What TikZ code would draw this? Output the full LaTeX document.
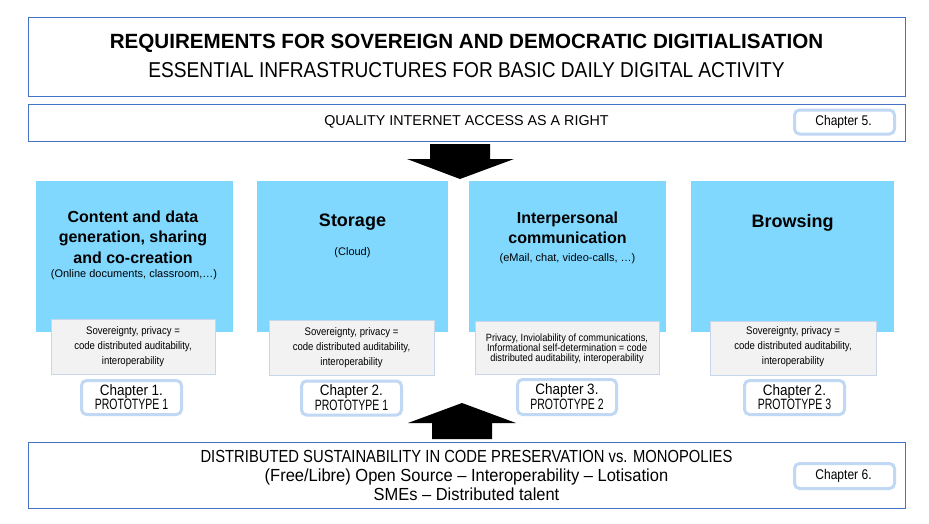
\documentclass[tikz,border=0pt]{standalone}
\usepackage{fontspec}
\setmainfont{Liberation Sans}
\definecolor{boxblue}{RGB}{68,114,196}
\definecolor{catblue}{RGB}{128,216,255}
\definecolor{chapline}{RGB}{192,216,244}
\definecolor{grayline}{RGB}{200,214,236}
\definecolor{grayfill}{RGB}{242,242,242}
\newcommand{\fs}[2]{\fontsize{#1}{#2}\selectfont}
\newcommand{\nar}[1]{\addfontfeature{FakeStretch=#1}}
\begin{document}
\begin{tikzpicture}[x=1pt,y=-1pt,
  frame/.style={draw=boxblue,line width=1pt,fill=white,inner sep=0pt},
  cat/.style={fill=catblue,inner sep=0pt},
  req/.style={fill=grayfill,draw=grayline,line width=0.8pt,inner sep=0pt},
  chap/.style={fill=white,draw=chapline,line width=3pt,rounded corners=5pt,inner sep=0pt},
  txt/.style={inner sep=0pt,align=center,text=black}]
\useasboundingbox[fill=white] (0,0) rectangle (929,523);

% top title box
\node[frame,minimum width=877pt,minimum height=79pt] (title) at (466.5,56.5) {};
\node[txt,font=\fs{20.6}{24}\bfseries] (t1) at (466.5,43.5) {REQUIREMENTS FOR SOVEREIGN AND DEMOCRATIC DIGITIALISATION};
\node[txt,font=\fs{21.5}{24}\nar{0.89}] (t2) at (466.5,70.5) {ESSENTIAL INFRASTRUCTURES FOR BASIC DAILY DIGITAL ACTIVITY};

% internet access box
\node[frame,minimum width=877pt,minimum height=37pt] (net) at (466.5,122.5) {};
\node[txt,font=\fs{14.3}{17}] (nettxt) at (466.5,122) {QUALITY INTERNET ACCESS AS A RIGHT};
\node[chap,minimum width=100pt,minimum height=24pt] (ch5) at (844.5,122) {};
\node[txt,font=\fs{14}{16}\nar{0.86}] (ch5t) at (843.5,122) {Chapter 5.};

% bottom box
\node[frame,minimum width=877pt,minimum height=66pt] (base) at (466.5,475) {};
\node[txt,font=\fs{17.5}{19}] (basetxt) at (466.5,475.5) {{\nar{0.845}DISTRIBUTED SUSTAINABILITY IN CODE PRESERVATION vs. MONOPOLIES}\\{\nar{0.943}(Free/Libre) Open Source -- Interoperability -- Lotisation}\\{\nar{0.94}SMEs -- Distributed talent}};
\node[chap,minimum width=100pt,minimum height=25pt] (ch6) at (844.5,476) {};
\node[txt,font=\fs{14}{16}\nar{0.86}] (ch6t) at (843.5,476) {Chapter 6.};

% block arrows
\fill[black] (430,144) -- (490,144) -- (490,159) -- (514,159) -- (460,179) -- (407,159) -- (430,159) -- cycle;
\fill[black] (432,439) -- (492,439) -- (492,423) -- (516,423) -- (462,403) -- (408,423) -- (432,423) -- cycle;

% category boxes
\node[cat,minimum width=197pt,minimum height=151pt] (c1) at (134.5,256.5) {};
\node[cat,minimum width=191pt,minimum height=151pt] (c2) at (352.5,256.5) {};
\node[cat,minimum width=197pt,minimum height=151pt] (c3) at (567.5,256.5) {};
\node[cat,minimum width=203pt,minimum height=151pt] (c4) at (792.5,256.5) {};

\node[txt,font=\fs{16}{20.5}\bfseries] (c1h) at (133,237) {Content and data\\generation, sharing\\and co-creation};
\node[txt,font=\fs{11}{13}] (c1s) at (134,275) {(Online documents, classroom,…)};
\node[txt,font=\fs{18}{21}\bfseries] (c2h) at (352.5,222.5) {Storage};
\node[txt,font=\fs{11}{13}] (c2s) at (352.5,253) {(Cloud)};
\node[txt,font=\fs{16}{20.5}\bfseries] (c3h) at (567.5,228) {Interpersonal\\communication};
\node[txt,font=\fs{11}{13}] (c3s) at (567.5,259) {(eMail, chat, video-calls, …)};
\node[txt,font=\fs{18}{21}\bfseries] (c4h) at (792.5,222.5) {Browsing};

% requirement boxes
\node[req,minimum width=164pt,minimum height=55pt] (r1) at (133,346.5) {};
\node[req,minimum width=165pt,minimum height=55pt] (r2) at (351.5,347.5) {};
\node[req,minimum width=184pt,minimum height=53pt] (r3) at (567,347.5) {};
\node[req,minimum width=166pt,minimum height=54pt] (r4) at (793,348) {};
\node[txt,font=\fs{11}{15}\nar{0.87}] (r1t) at (133,346.5) {Sovereignty, privacy =\\code distributed auditability,\\interoperability};
\node[txt,font=\fs{11}{15}\nar{0.87}] (r2t) at (351.5,347.5) {Sovereignty, privacy =\\code distributed auditability,\\interoperability};
\node[txt,font=\fs{10.5}{9.8}\nar{0.88}] (r3t) at (567,348.5) {Privacy, Inviolability of communications,\\Informational self-determination = code\\distributed auditability, interoperability};
\node[txt,font=\fs{11}{15}\nar{0.87}] (r4t) at (793,347) {Sovereignty, privacy =\\code distributed auditability,\\interoperability};

% chapter boxes
\node[chap,minimum width=100pt,minimum height=34pt] (p1) at (131.5,397.5) {};
\node[chap,minimum width=100pt,minimum height=34pt] (p2) at (351.5,398) {};
\node[chap,minimum width=99pt,minimum height=35pt] (p3) at (567,397) {};
\node[chap,minimum width=100pt,minimum height=34pt] (p4) at (794.5,397.5) {};
\node[txt,font=\fs{15}{13}] (p1t) at (131.5,397) {{\nar{0.9}Chapter 1.}\\{\nar{0.7}PROTOTYPE 1}};
\node[txt,font=\fs{15}{13}] (p2t) at (351.5,397.5) {{\nar{0.9}Chapter 2.}\\{\nar{0.7}PROTOTYPE 1}};
\node[txt,font=\fs{15}{13}] (p3t) at (567,396.5) {{\nar{0.9}Chapter 3.}\\{\nar{0.7}PROTOTYPE 2}};
\node[txt,font=\fs{15}{13}] (p4t) at (794.5,397) {{\nar{0.9}Chapter 2.}\\{\nar{0.7}PROTOTYPE 3}};
\end{tikzpicture}
\end{document}
